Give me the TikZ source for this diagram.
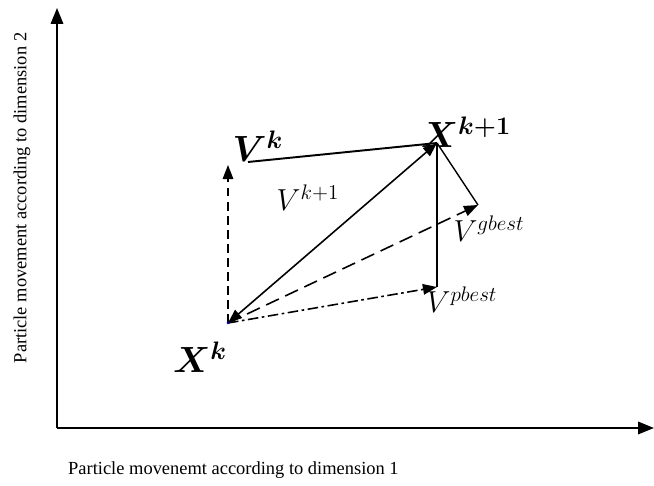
\documentclass[tikz,border=0pt]{standalone}
\usepackage{amsmath}
\usepackage{fontspec}
\setmainfont{Liberation Serif}
\usetikzlibrary{arrows.meta}

\tikzset{
  axis/.style={line width=1.2pt, -{Triangle[length=9pt,width=7pt]}},
  vec/.style={line width=0.9pt, -{Triangle[length=8pt,width=6pt]}},
  lbl/.style={inner sep=0pt, font=\fontsize{18}{20}\selectfont},
}

\begin{document}
\begin{tikzpicture}[x=0.02cm, y=-0.02cm]

% Frame (pixel coordinates of the page)
\useasboundingbox (0,0) rectangle (654,486);

% Axes
\coordinate (orig) at (57,428);
\coordinate (ytop) at (57,8);
\coordinate (xend) at (654,428);
\draw[axis] (orig) -- (ytop);
\draw[axis] (orig) -- (xend);

% Axis labels
\node[rotate=90, font=\fontsize{10.5}{12}\selectfont] (ylab) at (22,198)
  {Particle movement according to dimension 2};
\node[font=\fontsize{10.5}{12}\selectfont, anchor=west] (xlab) at (62,470)
  {Particle movenemt according to dimension 1};

% Positions
\coordinate (xk)  at (228,323);   % current position
\coordinate (vk)  at (228,165);   % tip of old velocity
\coordinate (vks) at (248,162);   % start of shifted old velocity
\coordinate (xk1) at (437,143);   % new position
\coordinate (pb)  at (437,287);   % tip of pbest part
\coordinate (gb)  at (478,205);   % tip of gbest part

% Old velocity (dashed)
\draw[vec, dashed, dash pattern=on 5pt off 3pt] (xk) -- (vk);

% New velocity
\draw[vec, {Triangle[length=8pt,width=6pt]}-{Triangle[length=8pt,width=6pt]}] (xk) -- (xk1);

% Shifted old velocity
\draw[line width=1.1pt] (vks) -- (xk1);

% pbest and gbest parts
\draw[vec, dash pattern=on 6pt off 2pt on 1.5pt off 2pt] (xk) -- (pb);
\draw[vec, dash pattern=on 8pt off 4pt] (xk) -- (gb);
\draw[line width=1.1pt] (xk1) -- (pb);
\draw[line width=0.8pt] (xk1) -- (gb);

% Position mark
\fill[blue!70!black] (xk) circle (1.5);

% Labels
\node[lbl, font=\fontsize{22}{24}\selectfont\boldmath] (lxk) at (200,357) {$X^{k}$};
\node[lbl, font=\fontsize{20}{22}\selectfont\boldmath] (lvk) at (258,146) {$V^{k}$};
\node[lbl, font=\fontsize{21}{23}\selectfont\boldmath] (lxk1) at (466,132) {$X^{k+1}$};
\node[lbl] (lvk1) at (308,198) {$V^{k+1}$};
\node[lbl] (lgb) at (489,229) {$V^{gbest}$};
\node[lbl] (lpb) at (462,300) {$V^{pbest}$};

\end{tikzpicture}
\end{document}
